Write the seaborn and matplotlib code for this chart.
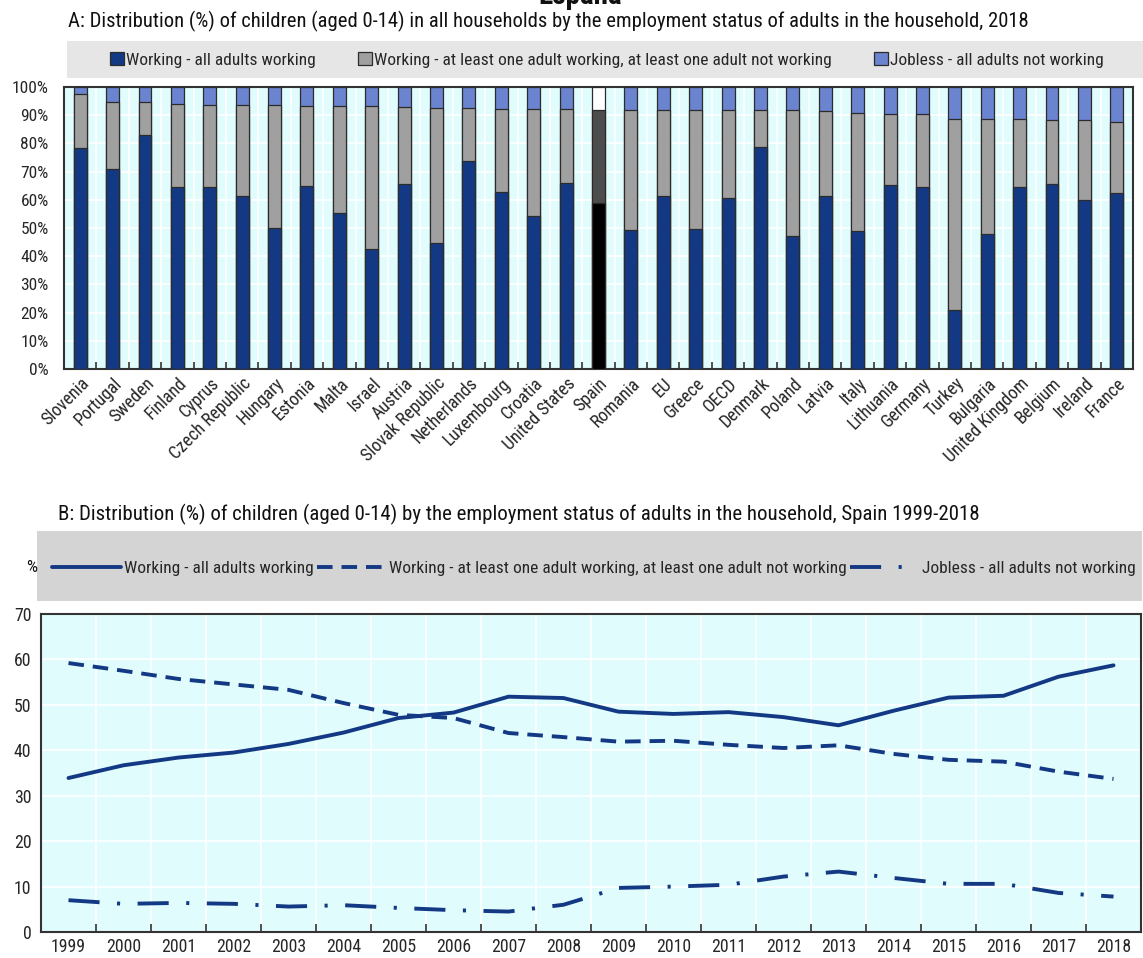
import matplotlib
matplotlib.use("Agg")
import matplotlib.pyplot as plt
from matplotlib.patches import Rectangle, Patch
from matplotlib.lines import Line2D
import seaborn as sns
import pandas as pd
import numpy as np

# ---------------- data ----------------
countries = ["Slovenia", "Portugal", "Sweden", "Finland", "Cyprus", "Czech Republic", "Hungary",
             "Estonia", "Malta", "Israel", "Austria", "Slovak Republic", "Netherlands", "Luxembourg",
             "Croatia", "United States", "Spain", "Romania", "EU", "Greece", "OECD", "Denmark",
             "Poland", "Latvia", "Italy", "Lithuania", "Germany", "Turkey", "Bulgaria",
             "United Kingdom", "Belgium", "Ireland", "France"]
all_working = [78.3, 71.0, 83.1, 64.7, 64.7, 61.3, 50.1, 64.9, 55.2, 42.6, 65.5, 44.6, 73.9, 62.8,
               54.2, 65.8, 58.8, 49.2, 61.4, 49.8, 60.7, 78.7, 47.3, 61.4, 49.0, 65.4, 64.7, 20.9,
               48.0, 64.6, 65.7, 59.9, 62.5]
some_working = [19.3, 23.8, 11.7, 29.3, 28.9, 32.3, 43.5, 28.4, 38.1, 50.6, 27.4, 47.8, 18.5, 29.4,
                37.9, 26.3, 33.2, 42.8, 30.6, 42.2, 31.0, 13.0, 44.4, 30.0, 41.9, 25.0, 25.6, 67.9,
                40.8, 23.9, 22.6, 28.4, 25.2]
jobless = [2.4, 5.2, 5.2, 6.0, 6.4, 6.4, 6.4, 6.7, 6.7, 6.8, 7.1, 7.6, 7.6, 7.8, 7.9, 7.9, 8.0, 8.0,
           8.0, 8.0, 8.3, 8.3, 8.3, 8.6, 9.1, 9.6, 9.7, 11.2, 11.2, 11.5, 11.7, 11.7, 12.3]

years = list(range(1999, 2019))
spain_all_working = [33.9, 36.7, 38.4, 39.5, 41.4, 43.9, 47.1, 48.3, 51.8, 51.5,
                     48.5, 48.0, 48.4, 47.3, 45.5, 48.7, 51.6, 52.0, 56.2, 58.7]
spain_some_working = [59.2, 57.5, 55.7, 54.5, 53.3, 50.4, 47.8, 47.1, 43.8, 42.9,
                      41.9, 42.1, 41.2, 40.5, 41.1, 39.2, 37.9, 37.5, 35.3, 33.7]
spain_jobless = [7.0, 6.2, 6.4, 6.2, 5.6, 5.9, 5.3, 4.8, 4.5, 6.0,
                 9.7, 10.0, 10.4, 12.2, 13.3, 11.9, 10.6, 10.6, 8.6, 7.8]

series_names = ["Working - all adults working",
                "Working - at least one adult working, at least one adult not working",
                "Jobless - all adults not working"]

# ---------------- style ----------------
sns.set_theme(style="white")
FONT = ["Liberation Sans Narrow", "Arial Narrow", "Roboto Condensed", "DejaVu Sans Condensed",
        "Liberation Sans", "DejaVu Sans"]
plt.rcParams["font.family"] = FONT

NAVY = "#143984"
GRAY = "#a0a0a0"
LIGHT = "#6a84cf"
BG = "#e1fcfc"
EDGE = "#2b2b2b"
LW = 2.8

W, H = 1143, 958
fig = plt.figure(figsize=(W / 100, H / 100), dpi=100)

def fx(px):
    return px / W

def fy(py):
    return 1 - py / H

# main title (cut off at the top edge, as in the reference)
fig.text(fx(580), fy(4), "España", ha="center", va="baseline", fontsize=21,
         fontweight="bold", color="#111111")

# ---------------- panel A ----------------
fig.text(fx(68), fy(27), "A: Distribution (%) of children (aged 0-14) in all households by the "
         "employment status of adults in the household, 2018", ha="left", va="baseline",
         fontsize=14.9, color="#111111")
fig.patches.append(Rectangle((fx(67), fy(78)), fx(1143) - fx(67), fy(41) - fy(78),
                             transform=fig.transFigure, facecolor="#e6e6e6", edgecolor="none",
                             zorder=0))

axA = fig.add_axes([fx(64), fy(369), fx(1133) - fx(64), fy(87) - fy(369)])
axA.set_facecolor(BG)

df = pd.DataFrame({"country": countries, "w": all_working, "m": some_working, "j": jobless})
df["top_m"] = df["w"] + df["m"]
df["top_j"] = df["top_m"] + df["j"]

def pal(normal, spain):
    return {c: (spain if c == "Spain" else normal) for c in countries}

for col, p in [("top_j", pal(LIGHT, "#ffffff")), ("top_m", pal(GRAY, "#4d4d4d")),
               ("w", pal(NAVY, "#000000"))]:
    sns.barplot(data=df, x="country", y=col, hue="country", palette=p, order=countries,
                hue_order=countries, width=0.4, saturation=1, edgecolor=EDGE, linewidth=0.9,
                legend=False, ax=axA, zorder=3)

axA.set_xlim(-0.5, len(countries) - 0.5)
axA.set_ylim(0, 100)
axA.set_yticks(np.arange(0, 101, 10))
axA.set_yticklabels([f"{v}%" for v in range(0, 101, 10)], fontsize=12.5)
axA.set_xticks(np.arange(len(countries)))
axA.set_xticklabels(countries, rotation=45, ha="right", rotation_mode="anchor", fontsize=12.8)
axA.set_xticks(np.arange(len(countries) - 1) + 0.5, minor=True)
axA.tick_params(axis="x", which="major", length=0, pad=4)
axA.tick_params(axis="x", which="minor", direction="in", length=5, width=1.2, color="#333333",
                bottom=True)
axA.tick_params(axis="y", length=0, pad=11)
axA.set_xlabel("")
axA.set_ylabel("")
axA.grid(False)
axA.yaxis.grid(True, color="white", linewidth=1.2, zorder=0)
axA.xaxis.grid(True, which="minor", color="white", linewidth=1.2, zorder=0)
axA.set_axisbelow(True)
for s in axA.spines.values():
    s.set_visible(True)
    s.set_color("#333333")
    s.set_linewidth(1.5)

hA = [Patch(facecolor=NAVY, edgecolor=EDGE, linewidth=0.9),
      Patch(facecolor=GRAY, edgecolor=EDGE, linewidth=0.9),
      Patch(facecolor=LIGHT, edgecolor=EDGE, linewidth=0.9)]
fig.legend(hA, series_names, loc="center", bbox_to_anchor=(fx(607), fy(60)), ncol=3,
           frameon=False, fontsize=12.5, handlelength=0.8, handleheight=0.8,
           handletextpad=0.12, columnspacing=2.45, borderaxespad=0)

# ---------------- panel B ----------------
fig.text(fx(58), fy(514), "B: Distribution (%) of children (aged 0-14) by the employment status "
         "of adults in the household, Spain 1999-2018", ha="left", va="center",
         fontsize=15.0, color="#111111")
fig.patches.append(Rectangle((fx(37), fy(601)), fx(1142) - fx(37), fy(531) - fy(601),
                             transform=fig.transFigure, facecolor="#d4d4d4", edgecolor="none",
                             zorder=0))
fig.text(fx(32), fy(568), "%", ha="center", va="center", fontsize=12.5, color="#111111")

axB = fig.add_axes([fx(41), fy(932), fx(1141) - fx(41), fy(614) - fy(932)])
axB.set_facecolor(BG)

long = pd.DataFrame({
    "year": years * 3,
    "value": spain_all_working + spain_some_working + spain_jobless,
    "series": [series_names[0]] * len(years) + [series_names[1]] * len(years)
              + [series_names[2]] * len(years),
})
DASH = (4.0, 2.3)
DASHDOT = (8, 4.5, 0.8, 4.5)
dash_map = {series_names[0]: "", series_names[1]: DASH, series_names[2]: DASHDOT}
sns.lineplot(data=long, x="year", y="value", hue="series", style="series",
             palette={s: NAVY for s in series_names}, dashes=dash_map, linewidth=LW,
             legend=False, ax=axB, zorder=3)

axB.set_xlim(years[0] - 0.5, years[-1] + 0.5)
axB.set_ylim(0, 70)
axB.set_yticks(np.arange(0, 71, 10))
axB.set_yticklabels([str(v) for v in range(0, 71, 10)], fontsize=12.8)
axB.set_xticks(years)
axB.set_xticklabels([str(y) for y in years], fontsize=12.8)
axB.set_xticks(np.array(years[:-1]) + 0.5, minor=True)
axB.tick_params(axis="x", which="major", length=0, pad=4)
axB.tick_params(axis="x", which="minor", direction="in", length=6, width=1.2, color="#333333",
                bottom=True)
axB.tick_params(axis="y", length=0, pad=7)
axB.set_xlabel("")
axB.set_ylabel("")
axB.grid(False)
axB.yaxis.grid(True, color="white", linewidth=1.2, zorder=0)
axB.xaxis.grid(True, which="minor", color="white", linewidth=1.2, zorder=0)
axB.set_axisbelow(True)
for s in axB.spines.values():
    s.set_visible(True)
    s.set_color("#333333")
    s.set_linewidth(1.5)

hB = [Line2D([], [], color=NAVY, linewidth=LW),
      Line2D([], [], color=NAVY, linewidth=LW, dashes=DASH),
      Line2D([], [], color=NAVY, linewidth=LW, dashes=DASHDOT)]
fig.legend(hB, series_names, loc="center", bbox_to_anchor=(fx(594), fy(568)), ncol=3,
           frameon=False, fontsize=12.5, handlelength=4.0, handletextpad=0.17,
           columnspacing=0.17, borderaxespad=0)

fig.savefig("out.png", dpi=100)
